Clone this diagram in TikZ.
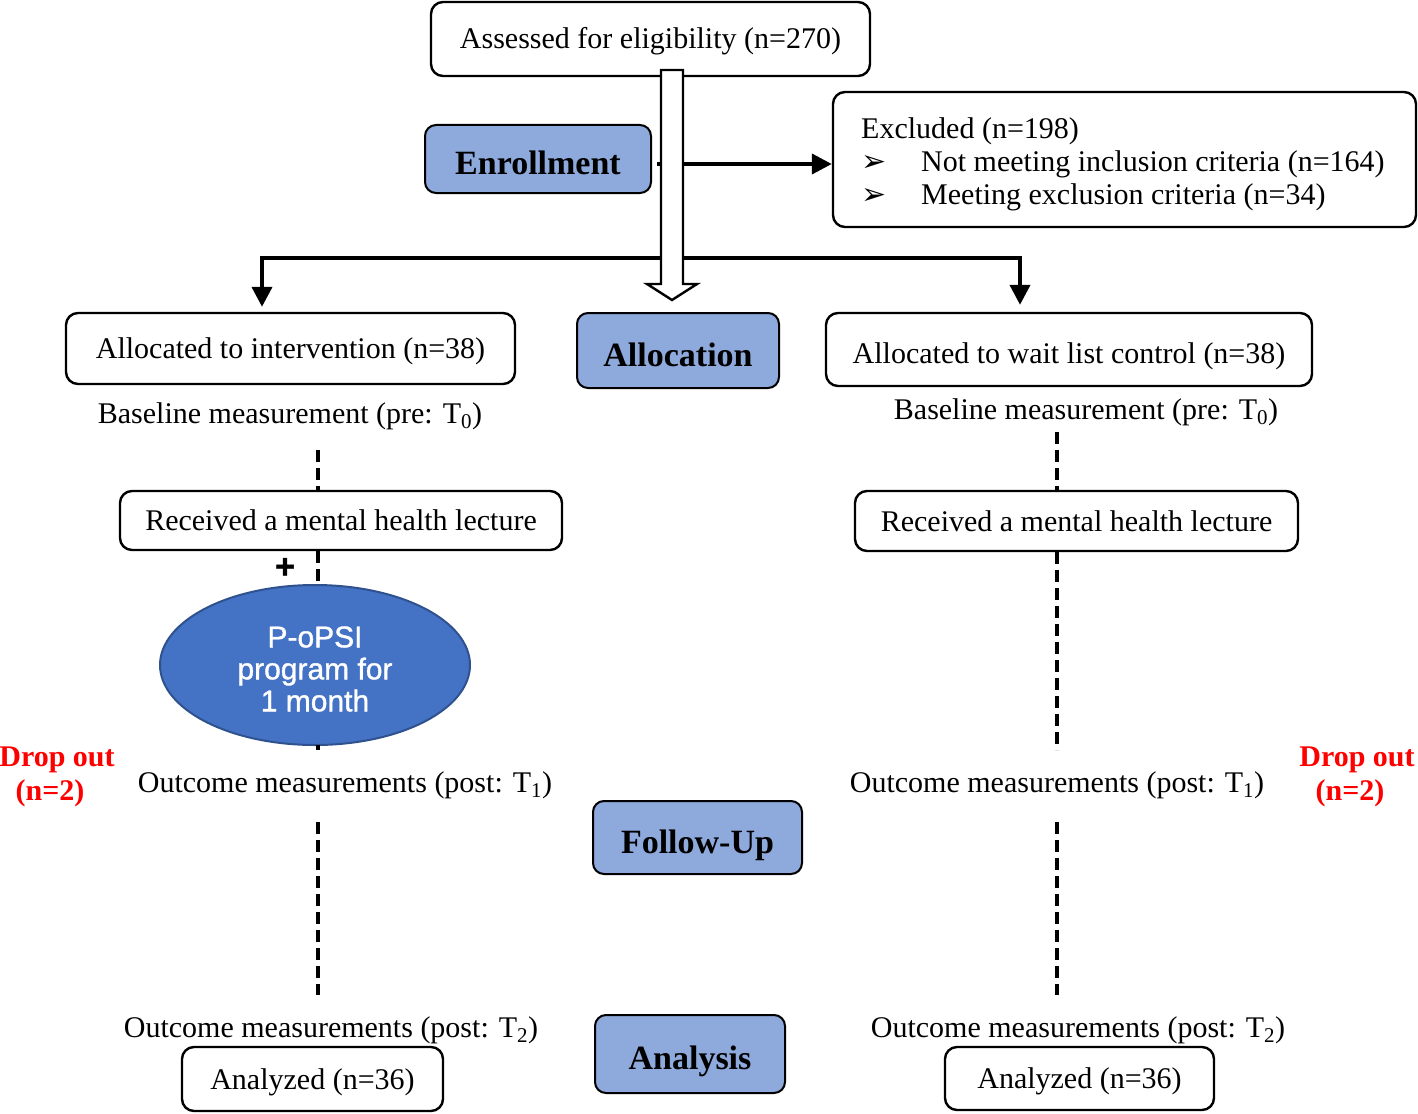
\documentclass[tikz,border=0pt]{standalone}
\usepackage{fontspec}
\setmainfont{Liberation Serif}
\newfontfamily\arialf[FakeBold=1.2]{Liberation Sans}
\newfontfamily\dejavu{DejaVu Sans}
\usetikzlibrary{shapes.geometric,arrows.meta}
\definecolor{phase}{RGB}{142,169,219}
\definecolor{ellfill}{RGB}{68,114,196}
\definecolor{elldraw}{RGB}{47,82,143}
\definecolor{dropred}{RGB}{255,0,0}
\tikzset{
  txt/.style={font=\fontsize{30}{34}\selectfont, inner sep=0pt, text height=24pt, text depth=4pt},
  rbox/.style={draw=black, line width=2.4pt, rounded corners=12pt, fill=white, inner sep=0pt, text height=24pt, text depth=4pt, font=\fontsize{30}{34}\selectfont},
  phasebox/.style={draw=black, line width=2pt, rounded corners=11pt, fill=phase, inner sep=0pt, text height=35pt, text depth=4pt, font=\bfseries\fontsize{34}{38}\selectfont},
  arr/.style={line width=4pt, -{Triangle[width=20pt,length=20pt]}},
  dashline/.style={line width=4pt, dash pattern=on 12pt off 6pt},
  droptxt/.style={text=dropred, font=\bfseries\fontsize{30}{34}\selectfont, align=center, inner sep=0pt},
}
\begin{document}
\begin{tikzpicture}[x=1pt,y=-1pt]
\useasboundingbox (0,0) rectangle (1418,1113);

% nodes
\node[rbox, minimum width=439pt, minimum height=74pt] (top) at (650.5,39) {Assessed for eligibility (n=270)};
\node[phasebox, minimum width=226pt, minimum height=68pt] (enroll) at (538,159) {Enrollment};
\node[rbox, minimum width=583pt, minimum height=135pt] (excl) at (1124.5,159.5) {};
\node[font=\fontsize{30}{34}\selectfont, inner sep=0pt, anchor=west, align=left] (exclt) at (861,164) {Excluded (n=198)\\[-1pt]
\makebox[60pt][l]{\dejavu\fontsize{30}{30}\selectfont ➢}Not meeting inclusion criteria (n=164)\\[-1pt]
\makebox[60pt][l]{\dejavu\fontsize{30}{30}\selectfont ➢}Meeting exclusion criteria (n=34)};

\node[rbox, minimum width=449pt, minimum height=71pt] (alloc1) at (290.5,348.5) {Allocated to intervention (n=38)};
\node[phasebox, minimum width=202pt, minimum height=75pt] (allocation) at (678,350.5) {Allocation};
\node[rbox, minimum width=486pt, minimum height=73pt] (alloc2) at (1069,349.5) {\raisebox{-4pt}{Allocated to wait list control (n=38)}};

\node[txt] (base1) at (290,413) {Baseline measurement (pre: T\textsubscript{0})};
\node[txt] (base2) at (1086,409) {Baseline measurement (pre: T\textsubscript{0})};

\node[rbox, minimum width=442pt, minimum height=59pt] (rec1) at (341,520.5) {Received a mental health lecture};
\node[rbox, minimum width=443pt, minimum height=60pt] (rec2) at (1076.5,521) {Received a mental health lecture};

\node[ellipse, draw=elldraw, line width=2pt, fill=ellfill, minimum width=310pt, minimum height=160pt, inner sep=0pt] (ell) at (315,665) {};
\node[text=white, align=center, inner sep=0pt, font=\arialf\fontsize{30}{32}\selectfont] (elltxt) at (315,669) {P-oPSI\\program for\\1 month};
\node[inner sep=0pt, font=\arialf\bfseries\fontsize{34}{34}\selectfont] (plus) at (285,568) {+};

\node[droptxt] (drop1) at (57,777) {Drop out\\(n=2)\hspace*{14pt}};
\node[droptxt] (drop2) at (1357,777) {Drop out\\(n=2)\hspace*{14pt}};

\node[txt] (out1a) at (345,782) {Outcome measurements (post: T\textsubscript{1})};
\node[txt] (out1b) at (1057,782) {Outcome measurements (post: T\textsubscript{1})};

\node[phasebox, minimum width=209pt, minimum height=73pt] (follow) at (697.5,837.5) {Follow-Up};

\node[txt] (out2a) at (331,1027) {Outcome measurements (post: T\textsubscript{2})};
\node[txt] (out2b) at (1078,1027) {Outcome measurements (post: T\textsubscript{2})};

\node[rbox, minimum width=261pt, minimum height=64pt] (an1) at (312.5,1079) {Analyzed (n=36)};
\node[rbox, minimum width=269pt, minimum height=63pt] (an2) at (1079.5,1078.5) {Analyzed (n=36)};
\node[phasebox, minimum width=190pt, minimum height=78pt] (analysis) at (690,1054) {Analysis};

% exclusion arrow (behind the hollow shaft)
\coordinate (exstart) at (657,164);
\draw[arr] (exstart) -- (exstart -| excl.west);

% allocation split
\coordinate (splitL) at (262,258);
\coordinate (splitR) at (1020,258);
\draw[line width=4pt] ([xshift=-2pt]splitL) -- ([xshift=2pt]splitR);
\draw[arr, shorten >=5pt] (splitL) -- (splitL |- alloc1.north);
\draw[arr, shorten >=7pt] (splitR) -- (splitR |- alloc2.north);

% hollow arrow
\draw[line width=2.4pt, fill=white, line join=miter]
  (661,70) -- (683,70) -- (683,284) -- (697,284) -- (672,300) -- (647,284) -- (661,284) -- cycle;

% dashed lines left
\coordinate (dl1) at (318,450);
\draw[dashline] (dl1) -- (dl1 |- rec1.north);
\coordinate (dl2) at (318,551);
\draw[dashline] (dl2) -- (dl2 |- ell.north);
\coordinate (dl3) at (318,745);
\draw[dashline] (dl3) -- (318,750);
\coordinate (dl4) at (318,822);
\draw[dashline] (dl4) -- (318,995);

% dashed lines right
\coordinate (dr1) at (1057,432);
\draw[dashline] (dr1) -- (dr1 |- rec2.north);
\coordinate (dr2) at (1057,552);
\draw[dashline] (dr2) -- (1057,750);
\coordinate (dr3) at (1057,822);
\draw[dashline] (dr3) -- (1057,995);
\end{tikzpicture}
\end{document}
